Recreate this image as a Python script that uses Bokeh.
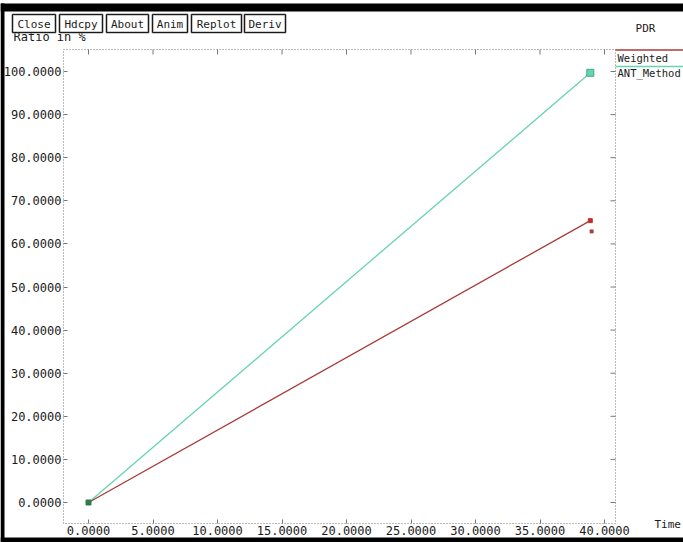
import math
from bokeh.plotting import figure
from bokeh.models import Range1d, LinearAxis, FixedTicker, PrintfTickFormatter
from bokeh.core.properties import value
from bokeh.embed import file_html
from bokeh.resources import INLINE

# ---- data ----
weighted_x = [0.0, 38.9]
weighted_y = [0.0, 65.4]
weighted_extra_x = [39.0]
weighted_extra_y = [62.9]
ant_x = [0.0, 38.9]
ant_y = [0.0, 99.7]
x_ticks = [0, 5, 10, 15, 20, 25, 30, 35, 40]
y_ticks = [0, 10, 20, 30, 40, 50, 60, 70, 80, 90, 100]
buttons = ["Close", "Hdcpy", "About", "Anim", "Replot", "Deriv"]
series_names = ["Weighted", "ANT_Method"]
title_text = "PDR"
x_label = "Time"
y_label = "Ratio in %"

# ---- layout constants (page pixels) ----
W, H = 683, 542
X0_PX, X_SCALE = 88.0, 12.9      # pixel of x=0, pixels per x unit
Y0_PX, Y_SCALE = 502.0, 4.31     # pixel of y=0, pixels per y unit
BOX_L, BOX_R, BOX_T, BOX_B = 63, 615, 49, 523
MONO = "DejaVu Sans Mono"
RED = "#a83a3a"
GREEN = "#66d4b0"
FRAME = "#777777"
TXT = "#1a1a1a"


def xd(px):
    return (px - X0_PX) / X_SCALE


def yd(py):
    return (Y0_PX - py) / Y_SCALE


p = figure(width=W, height=H, output_backend="svg", toolbar_location=None,
           title=None, x_range=Range1d(xd(0), xd(W)),
           y_range=Range1d(yd(H), yd(0)), x_axis_type=None,
           y_axis_type=None, min_border=0)
p.grid.visible = False
p.outline_line_color = None
p.background_fill_color = "white"
p.border_fill_color = "white"
p.extra_x_ranges = {"px": Range1d(0, W)}
p.extra_y_ranges = {"px": Range1d(H, 0)}
PX = dict(x_range_name="px", y_range_name="px")

# ---- axes (fixed on the plot box edges) ----
def make_axis(ticks, loc, standoff):
    ax = LinearAxis(ticker=FixedTicker(ticks=ticks), fixed_location=loc)
    ax.axis_line_color = None
    ax.major_tick_in = 4
    ax.major_tick_out = 0
    ax.major_tick_line_color = FRAME
    ax.minor_tick_line_color = None
    ax.major_label_standoff = standoff
    ax.formatter = PrintfTickFormatter(format="%.4f")
    ax.major_label_text_font = MONO
    ax.major_label_text_font_size = "12px"
    ax.major_label_text_color = TXT
    return ax


p.add_layout(make_axis(x_ticks, yd(BOX_B), 2), "below")
p.add_layout(make_axis(y_ticks, xd(BOX_L), 2), "left")

# dotted plot box
p.quad(left=[BOX_L], right=[BOX_R], top=[BOX_T], bottom=[BOX_B],
       fill_color=None, line_color=FRAME, line_dash="1 2", line_width=1, **PX)
# inner ticks on the top and right edges
p.ray(x=x_ticks, y=[yd(BOX_T)] * len(x_ticks), length=5,
      length_units="screen", angle=-math.pi / 2, line_color=FRAME)
p.ray(x=[xd(BOX_R)] * len(y_ticks), y=y_ticks, length=5,
      length_units="screen", angle=math.pi, line_color=FRAME)

# ---- series ----
p.line(ant_x, ant_y, line_color=GREEN, line_width=1.3)
p.line(weighted_x, weighted_y, line_color=RED, line_width=1.3)
p.scatter(ant_x[:1], ant_y[:1], marker="square", size=5, fill_color="#2e7d4a",
          line_color="#2e7d4a")
p.scatter(ant_x[-1:], ant_y[-1:], marker="square", size=7, fill_color=GREEN,
          line_color="#3fa888")
p.scatter(weighted_x[-1:], weighted_y[-1:], marker="square", size=4,
          fill_color="#c03030", line_color="#c03030")
p.scatter(weighted_extra_x, weighted_extra_y, marker="square", size=3,
          fill_color="#a04040", line_color="#a04040")

# ---- window chrome: black bands ----
p.quad(left=[0, 0, 0], right=[W, 4, W], top=[3, 3, 537], bottom=[11, H, H],
       fill_color="black", line_color=None, **PX)

# y label (partly hidden by the buttons), then the buttons
p.text(x=[13], y=[36.5], text=[y_label], text_font=value(MONO),
       text_font_size=value("12px"), text_color=TXT,
       text_baseline="alphabetic", **PX)
btn_l = [12, 59, 106, 152, 191, 244]
btn_r = [55, 102, 148, 187, 241, 285]
p.quad(left=btn_l, right=btn_r, top=[14] * 6, bottom=[32] * 6,
       fill_color="white", line_color="#9a9a9a", line_width=2.2, **PX)
p.quad(left=btn_l, right=btn_r, top=[14] * 6, bottom=[32] * 6,
       fill_color=None, line_color="#1a1a1a", line_width=1, **PX)
p.text(x=[(a + b) / 2 for a, b in zip(btn_l, btn_r)], y=[23.5] * 6,
       text=buttons, text_font=value(MONO), text_font_size=value("11px"),
       text_color=TXT, text_align="center", text_baseline="middle", **PX)

# title
p.text(x=[645], y=[28], text=[title_text], text_font=value(MONO),
       text_font_size=value("11px"), text_color=TXT, text_align="center",
       text_baseline="middle", **PX)

# legend (xgraph style: coloured line above each name)
leg_y = [49.6, 66]
p.segment(x0=[615, 615], x1=[W, W], y0=leg_y, y1=leg_y,
          line_color=[RED, GREEN], line_width=1.5, **PX)
p.text(x=[617, 617], y=[57, 72.5], text=series_names, text_font=value(MONO),
       text_font_size=value("10.5px"), text_color=TXT, text_baseline="middle",
       **PX)

# x label
p.text(x=[654], y=[524], text=[x_label], text_font=value(MONO),
       text_font_size=value("11px"), text_color=TXT, text_baseline="middle",
       **PX)

open("out.html", "w").write(file_html(p, INLINE))
